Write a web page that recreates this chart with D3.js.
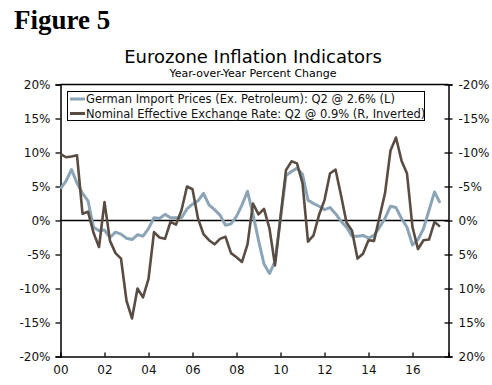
<!DOCTYPE html>
<html><head><meta charset="utf-8">
<script src="https://cdn.jsdelivr.net/npm/d3@7"></script>
<style>html,body{margin:0;padding:0;background:#fff;}svg{display:block;}</style>
</head><body>
<svg id="chart" width="492" height="385"></svg>
<script>
// ---- data (quarterly, 2000Q1 .. 2017Q2) ----
const startYear = 2000;
const germanImportPrices = [
  4.7, 5.8, 7.5, 5.5, 4.0, 2.9, -1.0, -1.5, -1.4, -2.5, -1.7, -2.0,
  -2.6, -2.8, -2.1, -2.3, -1.2, 0.4, 0.3, 0.9, 0.4, 0.4, 0.4, 1.7,
  2.4, 2.9, 4.0, 2.3, 1.6, 0.8, -0.7, -0.5, 0.6, 2.3, 4.3, 0.9,
  -2.9, -6.4, -7.8, -6.0, 0.3, 6.6, 7.2, 7.7, 6.8, 3.0, 2.5, 2.1,
  1.6, 1.9, 1.0, -0.1, -1.0, -2.3, -2.3, -2.2, -2.6, -2.2, -1.0, 0.3,
  2.1, 1.9, 0.3, -1.0, -3.6, -2.8, -1.2, 1.5, 4.2, 2.6
];
// Nominal effective exchange rate, actual values (plotted on inverted right axis)
const neer = [
  -9.8, -9.3, -9.4, -9.6, -1.0, -1.3, 1.8, 3.9, -2.7, 3.0, 4.8, 5.6,
  11.8, 14.4, 10.0, 11.3, 8.6, 1.7, 2.5, 2.7, 0.2, 0.6, -1.5, -5.0,
  -4.6, -0.3, 2.0, 2.9, 3.5, 2.7, 2.4, 4.8, 5.4, 6.1, 3.5, -2.5,
  -0.9, -1.7, 1.2, 6.6, -0.5, -7.4, -8.7, -8.4, -5.5, 3.1, 2.2, -0.8,
  -3.0, -6.9, -7.5, -3.7, 0.3, 1.5, 5.6, 4.9, 2.9, 3.0, -0.5, -4.0,
  -10.3, -12.2, -8.8, -6.9, 1.0, 4.2, 2.9, 2.8, 0.2, 0.9
];
const quarters = germanImportPrices.map((d, i) => startYear + i / 4);
const xTickYears = [2000, 2002, 2004, 2006, 2008, 2010, 2012, 2014, 2016];
const yTicks = [-20, -15, -10, -5, 0, 5, 10, 15, 20];
const legendLabels = [
  "German Import Prices (Ex. Petroleum): Q2 @ 2.6% (L)",
  "Nominal Effective Exchange Rate: Q2 @ 0.9% (R, Inverted)"
];
const colors = ["#8ba5b6", "#584c43"];

// ---- layout ----
const svg = d3.select("#chart");
const L = 60.5, R = 448.5, T = 84.5, B = 356.5;
const font = "'DejaVu Sans', Verdana, sans-serif";

const x = d3.scaleLinear().domain([2000, 2017.636]).range([L, R]);
const yL = d3.scaleLinear().domain([-20, 20]).range([B, T]);
const yR = d3.scaleLinear().domain([20, -20]).range([B, T]);

// titles
svg.append("text").attr("x", 14).attr("y", 29)
  .attr("font-family", "'Liberation Serif', 'DejaVu Serif', serif")
  .attr("font-weight", "bold").attr("font-size", 27).attr("fill", "#000")
  .text("Figure 5");
svg.append("text").attr("x", 253).attr("y", 63).attr("text-anchor", "middle")
  .attr("font-family", font).attr("font-size", 18).attr("fill", "#000")
  .text("Eurozone Inflation Indicators");
svg.append("text").attr("x", 253).attr("y", 77).attr("text-anchor", "middle")
  .attr("font-family", font).attr("font-size", 11).attr("fill", "#000")
  .text("Year-over-Year Percent Change");

const fmt = d => d + "%";

// left axis
const gL = svg.append("g").attr("transform", `translate(${L},0)`)
  .call(d3.axisLeft(yL).tickValues(yTicks).tickFormat(fmt).tickSize(5).tickPadding(5));
// right axis
const gR = svg.append("g").attr("transform", `translate(${R},0)`)
  .call(d3.axisRight(yR).tickValues(yTicks).tickFormat(fmt).tickSize(4).tickPadding(6));
gR.selectAll(".tick line").attr("x1", -4);
// bottom axis
const gB = svg.append("g").attr("transform", `translate(0,${B})`)
  .call(d3.axisBottom(x).tickValues(xTickYears)
    .tickFormat(d => String(d % 100).padStart(2, "0")).tickSize(-4).tickPadding(9));
// top frame
svg.append("line").attr("x1", L).attr("x2", R).attr("y1", T).attr("y2", T)
  .attr("stroke", "#000").attr("stroke-width", 1.5);

[gL, gR, gB].forEach(g => {
  g.selectAll(".domain").attr("stroke", "#000").attr("stroke-width", 1.5);
  g.selectAll(".tick line").attr("stroke", "#000").attr("stroke-width", 1.3);
  g.selectAll("text").attr("font-family", font).attr("font-size", 12).attr("fill", "#111");
});
gB.selectAll(".tick").filter(d => d === 2000).select("line").remove();

// zero line
svg.append("line").attr("x1", L).attr("x2", R).attr("y1", yL(0)).attr("y2", yL(0))
  .attr("stroke", "#000").attr("stroke-width", 1.3);

// lines
const lineL = d3.line().x((d, i) => x(quarters[i])).y(d => yL(d));
const lineR = d3.line().x((d, i) => x(quarters[i])).y(d => yR(d));
svg.append("path").datum(germanImportPrices).attr("d", lineL)
  .attr("fill", "none").attr("stroke", colors[0]).attr("stroke-width", 3)
  .attr("stroke-linejoin", "round");
svg.append("path").datum(neer).attr("d", lineR)
  .attr("fill", "none").attr("stroke", colors[1]).attr("stroke-width", 2.6)
  .attr("stroke-linejoin", "round");

// legend
const lg = svg.append("g");
lg.append("rect").attr("x", 67.5).attr("y", 91.5).attr("width", 357).attr("height", 29)
  .attr("fill", "#fff").attr("stroke", "#000").attr("stroke-width", 1);
legendLabels.forEach((t, i) => {
  const yy = 99 + i * 14.5;
  lg.append("line").attr("x1", 70).attr("x2", 85).attr("y1", yy).attr("y2", yy)
    .attr("stroke", colors[i]).attr("stroke-width", 3);
  lg.append("text").attr("x", 86).attr("y", yy + 4).attr("font-family", font)
    .attr("font-size", 11.5).attr("fill", "#111").text(t);
});
</script>
</body></html>
